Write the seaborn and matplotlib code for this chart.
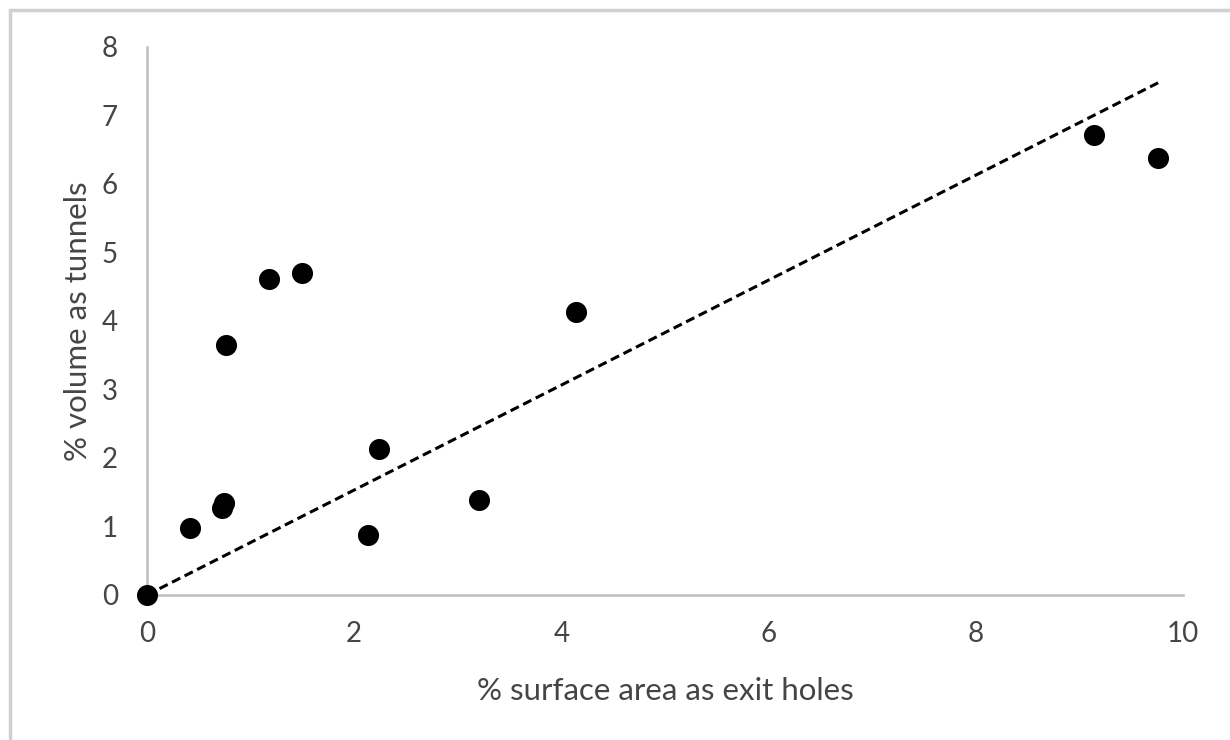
import numpy as np
import pandas as pd
import matplotlib
matplotlib.use("Agg")
import matplotlib.pyplot as plt
import seaborn as sns
from matplotlib.patches import Rectangle

# data
surface_pct = [0.00, 0.42, 0.72, 0.74, 0.76, 1.18, 1.50, 2.13, 2.24, 3.20, 4.14, 9.14, 9.76]
volume_pct = [0.00, 0.98, 1.27, 1.34, 3.65, 4.61, 4.70, 0.88, 2.13, 1.39, 4.13, 6.72, 6.38]
x_ticks = [0, 2, 4, 6, 8, 10]
y_ticks = [0, 1, 2, 3, 4, 5, 6, 7, 8]

df = pd.DataFrame({"surface": surface_pct, "volume": volume_pct})

sns.set_style("white")
plt.rcParams["font.family"] = ["Lato", "DejaVu Sans"]

grey_txt = "#454545"
grey_ax = "#bfbfbf"

fig = plt.figure(figsize=(12.3, 7.4), dpi=100)
ax = fig.add_axes([0.1195, 0.196, 0.8423, 0.7405])

# trendline through origin
xs = np.array(surface_pct)
ys = np.array(volume_pct)
slope = (xs * ys).sum() / (xs ** 2).sum()
line_x = np.array([0, xs.max()])
ax.plot(line_x, slope * line_x, color="black", linestyle=(0, (3, 1.6)), linewidth=2.2, zorder=2)

sns.scatterplot(data=df, x="surface", y="volume", ax=ax, color="black",
                s=230, edgecolor="black", linewidth=0, zorder=3, clip_on=False)

ax.set_xlim(0, 10)
ax.set_ylim(0, 8)
ax.set_xticks(x_ticks)
ax.set_yticks(y_ticks)
ax.set_xticklabels([str(t) for t in x_ticks])
ax.set_yticklabels([str(t) for t in y_ticks])

for side in ["top", "right"]:
    ax.spines[side].set_visible(False)
for side in ["left", "bottom"]:
    ax.spines[side].set_color(grey_ax)
    ax.spines[side].set_linewidth(1.8)

ax.tick_params(axis="both", colors=grey_ax, length=7, width=1.8, direction="out",
               labelsize=20, labelcolor=grey_txt)
ax.tick_params(axis="x", pad=12)
ax.tick_params(axis="y", pad=14)

ax.set_xlabel("% surface area as exit holes", fontsize=22.5, color=grey_txt, labelpad=21)
ax.set_ylabel("% volume as tunnels", fontsize=22.5, color=grey_txt, labelpad=7)

# outer chart frame
fig.patches.append(Rectangle((10 / 1230, -0.05), 1.2, 1.05 - 10 / 740,
                             transform=fig.transFigure, fill=False,
                             edgecolor="#d0d0d0", linewidth=2.5))

fig.savefig("out.png", dpi=100)
